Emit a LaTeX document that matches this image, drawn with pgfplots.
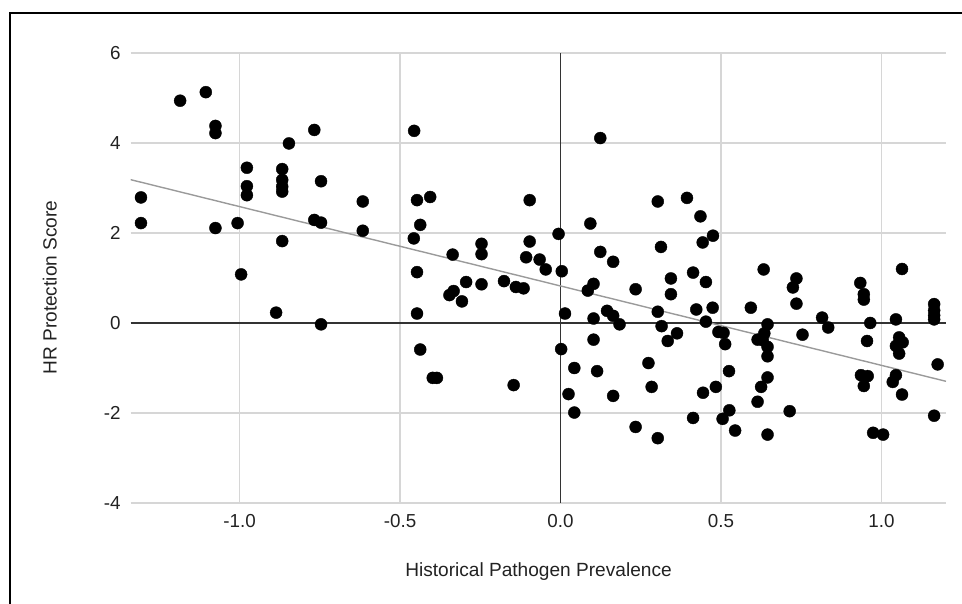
\documentclass[border=0pt]{standalone}
\usepackage{fontspec}
\setmainfont{Liberation Sans}
\usepackage{pgfplots}
\usepackage{pgfplotstable}
\pgfplotsset{compat=1.18}
\definecolor{gridc}{HTML}{D6D6D6}
\definecolor{txt}{HTML}{222222}
\definecolor{trend}{HTML}{9A9A9A}
\definecolor{zeroc}{HTML}{333333}
\pgfplotstableread{
x y
-1.185 4.94
-1.105 5.13
-1.075 4.38
-1.075 4.22
-0.846 3.99
-0.767 4.29
-0.977 3.45
-0.977 3.04
-0.977 2.84
-0.867 3.42
-0.867 3.18
-0.867 3.03
-0.867 2.92
-0.746 3.15
-1.307 2.79
-1.307 2.22
-1.075 2.11
-1.006 2.22
-0.767 2.29
-0.746 2.23
-0.616 2.70
-0.616 2.05
-0.867 1.82
-0.995 1.08
-0.886 0.23
-0.746 -0.03
-0.456 4.27
-0.447 2.73
-0.406 2.80
-0.437 2.18
-0.457 1.88
-0.447 1.13
-0.447 0.21
-0.437 -0.59
-0.398 -1.22
-0.385 -1.22
-0.336 1.52
-0.346 0.62
-0.333 0.71
-0.307 0.48
-0.294 0.91
-0.246 1.76
-0.246 1.53
-0.246 0.86
-0.176 0.93
-0.139 0.80
-0.115 0.77
-0.146 -1.38
-0.096 2.73
-0.096 1.81
-0.107 1.46
-0.065 1.41
-0.046 1.19
-0.006 1.98
0.004 1.15
0.014 0.21
0.002 -0.58
0.043 -1.00
0.025 -1.58
0.043 -1.99
0.124 4.11
0.093 2.21
0.124 1.58
0.164 1.36
0.103 0.87
0.085 0.72
0.145 0.27
0.164 0.16
0.184 -0.03
0.103 0.10
0.103 -0.37
0.114 -1.07
0.164 -1.62
0.234 0.75
0.234 -2.31
0.303 2.70
0.313 1.69
0.303 0.25
0.315 -0.07
0.334 -0.40
0.363 -0.23
0.274 -0.89
0.284 -1.42
0.303 -2.56
0.344 0.99
0.344 0.64
0.394 2.78
0.436 2.37
0.443 1.79
0.475 1.94
0.413 1.12
0.453 0.91
0.423 0.30
0.474 0.34
0.453 0.03
0.492 -0.20
0.508 -0.22
0.513 -0.47
0.525 -1.07
0.484 -1.42
0.444 -1.55
0.413 -2.11
0.526 -1.94
0.505 -2.13
0.544 -2.39
0.633 1.19
0.593 0.34
0.645 -0.03
0.635 -0.23
0.614 -0.37
0.630 -0.38
0.645 -0.53
0.645 -0.74
0.645 -1.21
0.625 -1.42
0.614 -1.75
0.645 -2.48
0.714 -1.96
0.735 0.99
0.724 0.79
0.735 0.43
0.754 -0.26
0.815 0.12
0.834 -0.10
0.934 0.89
0.945 0.64
0.945 0.52
0.965 0.00
0.955 -0.40
0.936 -1.16
0.957 -1.18
0.945 -1.40
0.974 -2.44
1.005 -2.48
1.064 1.20
1.045 0.08
1.055 -0.32
1.066 -0.43
1.045 -0.51
1.055 -0.68
1.045 -1.16
1.035 -1.31
1.064 -1.59
1.164 0.42
1.164 0.28
1.164 0.17
1.164 0.08
1.175 -0.92
1.164 -2.06
}\pts
\begin{document}
\begin{tikzpicture}[x=1pt,y=1pt]
\path[use as bounding box] (0,0) rectangle (962,604);
\draw[black, line width=2.6pt] (10,0) -- (10,591) -- (962,591);
\begin{axis}[
  at={(130.7pt,101pt)}, anchor=south west,
  scale only axis, width=815.3pt, height=450pt,
  xmin=-1.339, xmax=1.201, ymin=-4, ymax=6,
  axis line style={draw=none},
  major tick length=0pt,
  xtick={-1,-0.5,0,0.5,1},
  xticklabels={-1.0,-0.5,0.0,0.5,1.0},
  ytick={-4,-2,0,2,4,6},
  yticklabels={-4,-2,0,2,4,6},
  grid=major,
  major grid style={gridc, line width=1.5pt},
  tick label style={font=\fontsize{18.8}{21}\selectfont, text=txt},
  xticklabel style={anchor=base, yshift=-25pt, inner sep=0pt},
  yticklabel style={anchor=east, xshift=-10pt, inner sep=0pt},
  clip=false,
]
\draw[zeroc, line width=1.4pt] (axis cs:0,-4) -- (axis cs:0,6);
\draw[zeroc, line width=1.4pt] (axis cs:-1.339,0) -- (axis cs:1.201,0);
\addplot[only marks, mark=*, mark size=6pt, mark options={draw=black, fill=black}] table[x=x, y=y] {\pts};
\addplot[trend, line width=1.4pt, no marks] coordinates {(-1.339,3.185) (1.201,-1.296)};
\end{axis}
\node[anchor=base, font=\fontsize{19.1}{22}\selectfont, text=txt, inner sep=0pt] at (538.5,27) {Historical Pathogen Prevalence};
\node[rotate=90, anchor=base, font=\fontsize{19.1}{22}\selectfont, text=txt, inner sep=0pt] at (56.7,316.5) {HR Protection Score};
\end{tikzpicture}
\end{document}
